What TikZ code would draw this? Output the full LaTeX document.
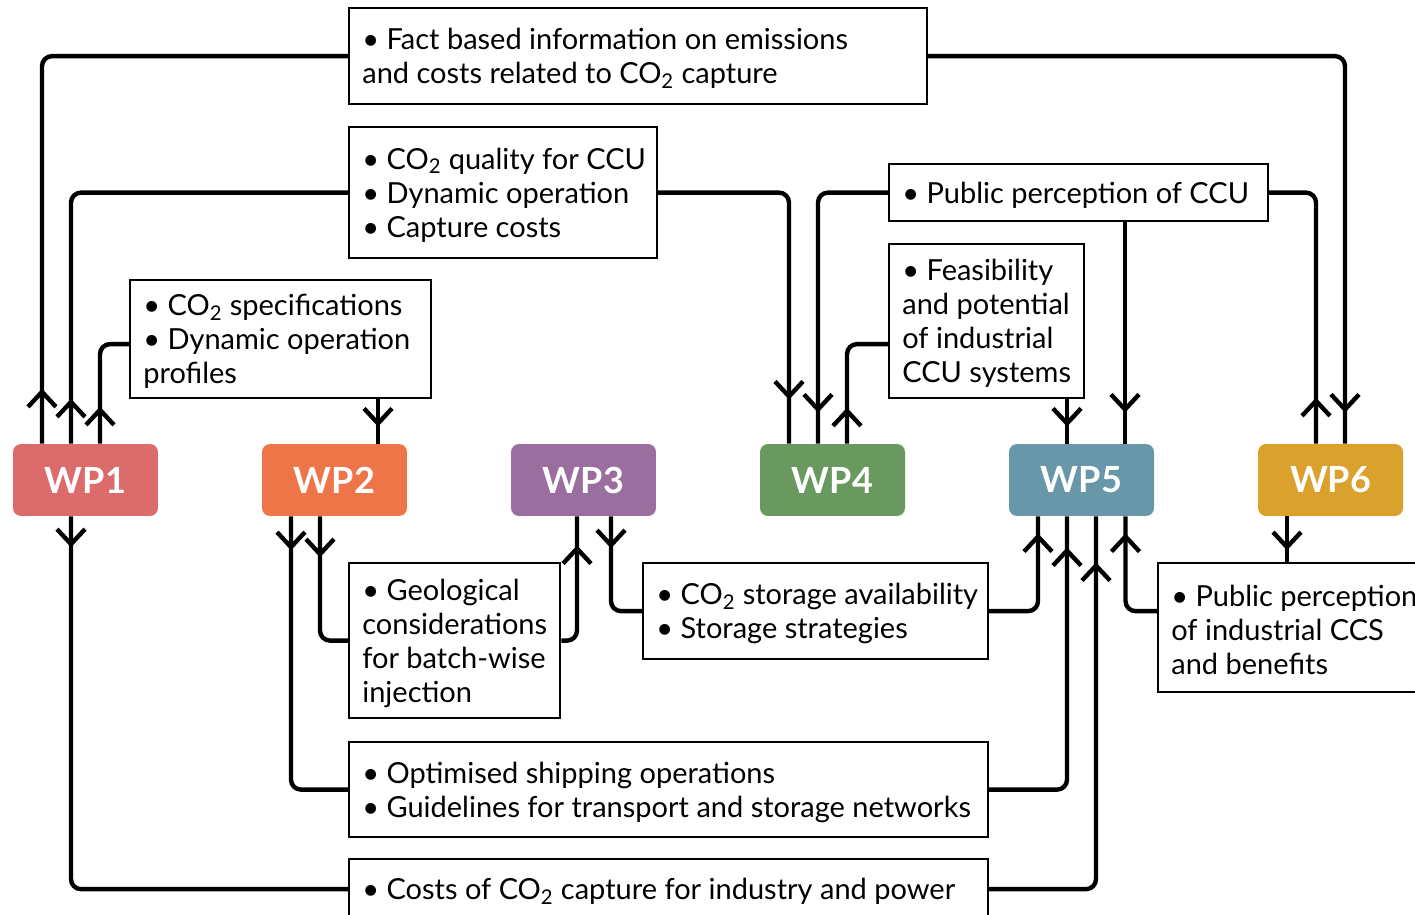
\documentclass[tikz,border=0pt]{standalone}
\usepackage{fontspec}
\setmainfont{Lato}
\usetikzlibrary{positioning,arrows.meta,calc,decorations.markings}

\definecolor{wpone}{HTML}{DC6B6C}
\definecolor{wptwo}{HTML}{EE7547}
\definecolor{wpthree}{HTML}{9A6E9E}
\definecolor{wpfour}{HTML}{6A9960}
\definecolor{wpfive}{HTML}{6897A9}
\definecolor{wpsix}{HTML}{DAA12C}
\newcommand{\cotwo}{CO\textsubscript{2}}

\begin{document}
\begin{tikzpicture}[x=0.02cm,y=-0.02cm,>={Straight Barb[length=0.3cm,width=0.56cm]},
  wp/.style={rounded corners=0.16cm, minimum width=2.9cm, minimum height=1.44cm,
    text=white, font=\fontsize{20.5}{20.5}\selectfont\bfseries},
  info/.style={draw, line width=1.3pt, anchor=north west, inner sep=0pt},
  txt/.style={anchor=west, align=left, inner xsep=0.28cm, inner ysep=0pt,
    yshift=-0.05cm, font=\fontsize{16.5}{19.3}\selectfont},
  link/.style={line width=2.5pt, rounded corners=0.2cm, postaction={decorate}},
  outof/.style={link, decoration={markings, mark=at position #1 with {\arrow{>}}}},
  into/.style={link, decoration={markings, mark=at position -#1 with {\arrow{>}}}}]
  \useasboundingbox (0,0) rectangle (1415,915);
  % ワークパッケージ
  \node[wp, fill=wpone]   (wp1) at (85.5,480)   {WP1};
  \node[wp, fill=wptwo]   (wp2) at (334.5,480)  {WP2};
  \node[wp, fill=wpthree] (wp3) at (583.5,480)  {WP3};
  \node[wp, fill=wpfour]  (wp4) at (832.5,480)  {WP4};
  \node[wp, fill=wpfive]  (wp5) at (1081.5,480) {WP5};
  \node[wp, fill=wpsix]   (wp6) at (1330.5,480) {WP6};
  % 上側の情報
  \node[info, minimum width=11.56cm, minimum height=1.92cm] (fact) at (348,7) {};
  \node[txt] (fact-t) at (fact.west)
    {\textbullet\ Fact based information on emissions\\and costs related to \cotwo\ capture};
  \node[info, minimum width=6.16cm, minimum height=2.62cm] (quality) at (348,126) {};
  \node[txt] (quality-t) at (quality.west)
    {\textbullet\ \cotwo\ quality for CCU\\\textbullet\ Dynamic operation\\\textbullet\ Capture costs};
  \node[info, minimum width=6.02cm, minimum height=2.36cm] (spec) at (129,279) {};
  \node[txt] (spec-t) at (spec.west)
    {\textbullet\ \cotwo\ specifications\\\textbullet\ Dynamic operation\\profiles};
  \node[info, minimum width=7.58cm, minimum height=1.14cm] (pubccu) at (888,163) {};
  \node[txt] (pubccu-t) at (pubccu.west) {\textbullet\ Public perception of CCU};
  \node[info, minimum width=3.9cm, minimum height=3.08cm] (feas) at (888,243) {};
  \node[txt] (feas-t) at (feas.west)
    {\textbullet\ Feasibility\\and potential\\of industrial\\CCU systems};
  % 下側の情報
  \node[info, minimum width=4.22cm, minimum height=3.1cm] (geo) at (348,562) {};
  \node[txt] (geo-t) at (geo.west)
    {\textbullet\ Geological\\considerations\\for batch-wise\\injection};
  \node[info, minimum width=6.9cm, minimum height=1.92cm] (storage) at (642,562) {};
  \node[txt] (storage-t) at (storage.west)
    {\textbullet\ \cotwo\ storage availability\\\textbullet\ Storage strategies};
  \node[info, minimum width=6cm, minimum height=2.58cm] (pubccs) at (1157,562) {};
  \node[txt] (pubccs-t) at (pubccs.west)
    {\textbullet\ Public perception\\of industrial CCS\\and benefits};
  \node[info, minimum width=12.78cm, minimum height=1.9cm] (ship) at (348,741) {};
  \node[txt] (ship-t) at (ship.west)
    {\textbullet\ Optimised shipping operations\\\textbullet\ Guidelines for transport and storage networks};
  \node[info, minimum width=12.78cm, minimum height=1.2cm] (costs) at (348,858) {};
  \node[txt] (costs-t) at (costs.west)
    {\textbullet\ Costs of \cotwo\ capture for industry and power};
  % 上側の流れ
  \draw[outof=1.1cm] ($(wp1.north)+(-43.5,0)$) |- (fact.west);
  \draw[into=0.62cm] (fact.east) -| ($(wp6.north)+(14.5,0)$);
  \draw[outof=0.9cm] ($(wp1.north)+(-14.5,0)$) |- (quality.west);
  \draw[into=0.88cm] (quality.east) -| ($(wp4.north)+(-43.5,0)$);
  \draw[outof=0.74cm] ($(wp1.north)+(14.5,0)$) |- ($(spec.west)+(0,5)$);
  \draw[into=0.34cm] ($(spec.south -| wp2.north)+(43.5,0)$) -- ($(wp2.north)+(43.5,0)$);
  \draw[into=0.62cm] (pubccu.west) -| ($(wp4.north)+(-14.5,0)$);
  \draw[into=0.62cm] ($(pubccu.south -| wp5.north)+(43.5,0)$) -- ($(wp5.north)+(43.5,0)$);
  \draw[outof=0.92cm] ($(wp6.north)+(-14.5,0)$) |- (pubccu.east);
  \draw[outof=0.72cm] ($(wp4.north)+(14.5,0)$) |- ($(feas.west)+(0,23)$);
  \draw[into=0.34cm] ($(feas.south -| wp5.north)+(-14.5,0)$) -- ($(wp5.north)+(-14.5,0)$);
  % 下側の流れ
  \draw[outof=0.62cm] ($(wp1.south)+(-14.5,0)$) |- (costs.west);
  \draw[into=0.92cm] (costs.east) -| ($(wp5.south)+(14.5,0)$);
  \draw[outof=0.68cm] ($(wp2.south)+(-43.5,0)$) |- (ship.west);
  \draw[into=0.62cm] (ship.east) -| ($(wp5.south)+(-14.5,0)$);
  \draw[outof=0.82cm] ($(wp2.south)+(-14.5,0)$) |- (geo.west);
  \draw[into=0.58cm] (geo.east) -| ($(wp3.south)+(-6.5,0)$);
  \draw[outof=0.64cm] ($(wp3.south)+(27.5,0)$) |- (storage.west);
  \draw[into=0.34cm] (storage.east) -| ($(wp5.south)+(-43.5,0)$);
  \draw[outof=0.68cm] ($(wp6.south)+(-43.5,0)$) -- ($(pubccs.north -| wp6.south)+(-43.5,0)$);
  \draw[into=0.34cm] (pubccs.west |- storage.west) -| ($(wp5.south)+(44,0)$);
\end{tikzpicture}
\end{document}
